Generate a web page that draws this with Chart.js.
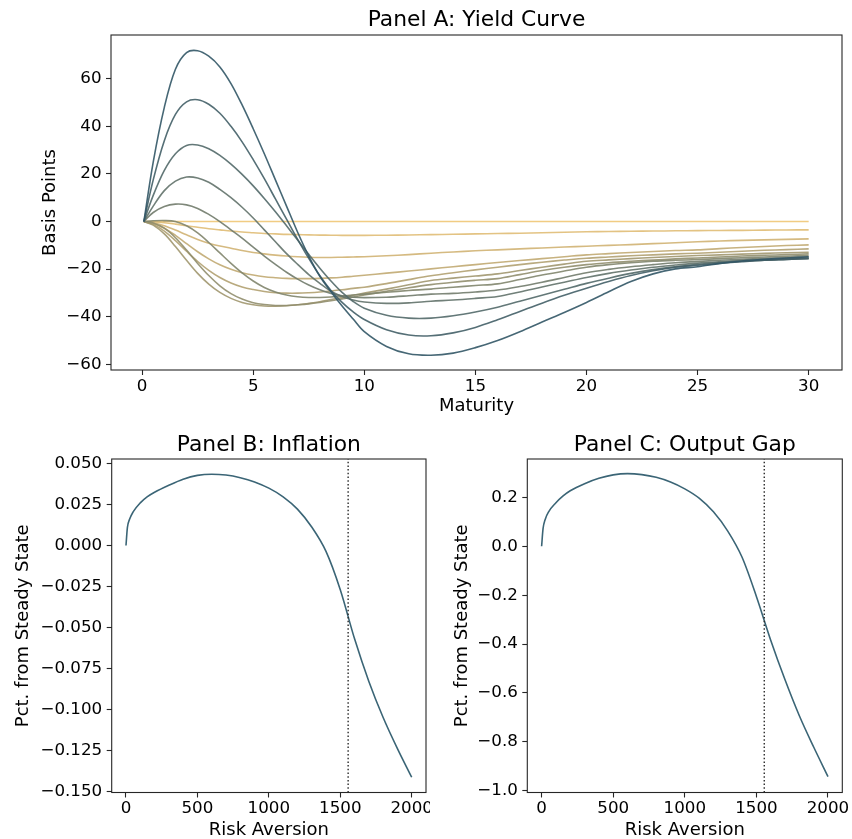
<!DOCTYPE html>
<html><head><meta charset="utf-8">
<script src="https://cdn.jsdelivr.net/npm/chart.js@4.4.0/dist/chart.umd.min.js"></script>
<style>
html,body{margin:0;padding:0;overflow:hidden;background:#fff;width:852px;height:839px;position:relative;}
canvas{position:absolute;}
</style></head><body>
<canvas id="pa" width="852" height="420" style="left:0;top:0;width:852px;height:420px"></canvas>
<canvas id="pb" width="430" height="430" style="left:0;top:420px;width:430px;height:430px"></canvas>
<canvas id="pc" width="422" height="430" style="left:430px;top:420px;width:422px;height:430px"></canvas>
<script>
// ---------------- DATA ----------------
const maturity = [0.08,0.5,1,1.5,2,2.5,3,3.5,4,4.5,5,5.5,6,6.5,7,7.5,8,8.5,9,9.5,10,11,12,13,14,15,16,17,18,19,20,21,22,23,24,25,26,27,28,29,30];

const curve01 = [0,0,0,0,0,0,0,0,0,0,0,0,0,0,0,0,0,0,0,0,0,0,0,0,0,0,0,0,0,0,0,0,0,0,0,0,0,0,0,0,0];
const curve02 = [0,-0.1,-0.5,-1.1,-1.8,-2.4,-3,-3.5,-4,-4.4,-4.7,-5,-5.2,-5.4,-5.5,-5.6,-5.7,-5.75,-5.8,-5.8,-5.8,-5.75,-5.65,-5.5,-5.35,-5.2,-5.05,-4.9,-4.7,-4.5,-4.3,-4.2,-4.1,-4,-3.9,-3.8,-3.75,-3.7,-3.6,-3.55,-3.5];
const curve03 = [0,-0.4,-1.8,-3.6,-5.6,-7.5,-9.1,-10.3,-11.2,-12.2,-13,-13.6,-14.1,-14.5,-14.8,-15,-15.1,-15.1,-15,-14.9,-14.8,-14.4,-13.9,-13.3,-12.8,-12.3,-11.9,-11.5,-11.1,-10.7,-10.4,-10,-9.7,-9.3,-8.9,-8.5,-8.2,-7.9,-7.7,-7.5,-7.3];
const curve04 = [0,-0.8,-2.8,-5.8,-9.3,-12.7,-15.7,-18.2,-20.1,-21.5,-22.5,-23.2,-23.6,-23.9,-24,-24,-23.9,-23.7,-23.4,-23,-22.6,-21.7,-20.8,-19.9,-19,-18.1,-17.2,-16.4,-15.6,-14.8,-14,-13.5,-13,-12.6,-12.2,-11.9,-11.4,-10.9,-10.5,-10.1,-9.8];
const curve05 = [0,-1.2,-4,-8,-12.5,-16.8,-20.5,-23.5,-25.8,-27.5,-28.6,-29.4,-29.9,-30.1,-30.1,-29.9,-29.6,-29.2,-28.7,-28.1,-27.6,-26.1,-24.4,-22.8,-21.5,-20.3,-19.2,-18.1,-17.1,-16.2,-15.4,-14.9,-14.4,-14,-13.6,-13.3,-12.9,-12.5,-12.1,-11.8,-11.5];
const curve06 = [0,-1.5,-5.2,-10.5,-16.3,-21.8,-26.3,-29.8,-32.3,-34,-35,-35.5,-35.6,-35.4,-35,-34.4,-33.7,-32.8,-31.9,-31,-30.1,-28.4,-26.6,-24.8,-23.8,-22.9,-22,-20.6,-19.2,-17.9,-16.7,-16.1,-15.6,-15.1,-14.7,-14.3,-14,-13.7,-13.4,-13.1,-12.9];
const curve07 = [0,-0.6,-2.8,-6.8,-12,-17.6,-22.7,-27,-30.3,-32.6,-34.1,-34.9,-35.3,-35.3,-35,-34.6,-34,-33.3,-32.5,-31.7,-30.9,-29.3,-27.8,-26.5,-25.5,-24.7,-24,-22.3,-20.6,-19.2,-18.1,-17.3,-16.7,-16.2,-15.7,-15.3,-14.9,-14.5,-14.2,-13.9,-13.6];
const curve08 = [0,0.3,0.4,0,-1.8,-4.8,-8.8,-13.2,-17.6,-21.6,-25,-27.7,-29.6,-30.9,-31.6,-31.9,-31.9,-31.7,-31.3,-30.9,-30.5,-29.7,-29,-28.4,-27.6,-26.9,-26.2,-24.4,-22.5,-20.8,-19.2,-18.1,-17.3,-16.7,-16.3,-16,-15.6,-15.2,-14.9,-14.6,-14.3];
const curve09 = [0,3.8,6.3,7.3,7,5.5,3,0,-3.5,-7,-10.8,-14.5,-18,-21.3,-24.2,-26.7,-28.7,-30.2,-31.2,-31.8,-32,-31.8,-31.2,-30.5,-30.2,-29.6,-28.8,-27.3,-25.5,-23.5,-21.5,-20.1,-19,-18.1,-17.3,-16.8,-16.3,-15.9,-15.5,-15.2,-14.9];
const curve10 = [0,6.5,13,17,18.7,18.3,16.5,13.5,10,6,1.5,-3.5,-8.5,-13.5,-18,-22.3,-26,-29.3,-31.5,-33,-33.8,-34.4,-34.2,-33.5,-33,-32.3,-31.5,-29.6,-27.5,-25.5,-23.5,-21.8,-20.4,-19.2,-18.3,-17.5,-16.9,-16.4,-16,-15.7,-15.4];
const curve11 = [0,11,21.5,28.5,32,32.2,30.6,27.8,24.1,19.8,15,9.7,4.1,-1.8,-7.8,-13.8,-19.6,-25,-29.8,-33.6,-36.4,-39.4,-40.6,-40.6,-39.6,-38,-36,-33.5,-31,-28.5,-26,-23.8,-21.8,-20.2,-19,-18,-17.2,-16.7,-16.2,-15.9,-15.6];
const curve12 = [0,17.5,34,45,50.3,51.2,49.3,45.5,40,33.5,26,18,9.5,1,-7.5,-15.5,-22.8,-29,-34,-38,-41.2,-45.5,-47.7,-48,-46.8,-44.5,-41.3,-37.8,-34.3,-31,-28,-25.2,-22.7,-20.7,-19.2,-18.4,-17.6,-16.9,-16.3,-15.9,-15.5];
const curve13 = [0,25,48,64,71,71.8,69.5,65,58,49,39,28.5,17.5,6.5,-4.5,-14.5,-23,-29.5,-35.5,-41,-46.3,-52.5,-55.6,-56.2,-55.3,-53,-50,-46.3,-42.2,-38.2,-34,-29.5,-25.2,-22,-19.9,-19,-17.6,-16.6,-15.9,-15.3,-14.8];

const riskAversion = [0,10,25,50,100,150,200,300,400,500,600,700,800,900,1000,1100,1200,1300,1400,1500,1600,1700,1800,1900,2000];
const inflation = [0,0.011,0.016,0.0205,0.026,0.0298,0.0325,0.0368,0.0405,0.0428,0.0435,0.043,0.0414,0.0388,0.035,0.0297,0.0222,0.0113,-0.0036,-0.027,-0.057,-0.083,-0.105,-0.124,-0.1415];
const outputGap = [0,0.072,0.11,0.142,0.178,0.206,0.227,0.256,0.278,0.292,0.297,0.293,0.282,0.263,0.235,0.197,0.141,0.062,-0.045,-0.205,-0.384,-0.546,-0.693,-0.821,-0.942];
const thresholdRA = 1555;

const xTicksA = [0,5,10,15,20,25,30];
const yTicksA = [-60,-40,-20,0,20,40,60];
const xTicksBC = [0,500,1000,1500,2000];
const yTicksB = [-0.150,-0.125,-0.100,-0.075,-0.050,-0.025,0.000,0.025,0.050];
const yTicksC = [-1.0,-0.8,-0.6,-0.4,-0.2,0.0,0.2];

const titles = ["Panel A: Yield Curve","Panel B: Inflation","Panel C: Output Gap"];
const xLabels = ["Maturity","Risk Aversion","Risk Aversion"];
const yLabels = ["Basis Points","Pct. from Steady State","Pct. from Steady State"];

// ---------------- STYLE / HELPERS ----------------
const FONT = "'DejaVu Sans', sans-serif";
const curves = [curve01,curve02,curve03,curve04,curve05,curve06,curve07,curve08,curve09,curve10,curve11,curve12,curve13];
const cStart = [240,198,118], cEnd = [50,86,102];
function mix(t){ return 'rgba(' + cStart.map((s,k)=>Math.round(s+(cEnd[k]-s)*t)).join(',') + ',0.9)'; }
function pts(xs, ys){ return xs.map((x,i)=>({x:x,y:ys[i]})); }
function fmtMinus(s){ return s.replace('-', '\u2212'); }

const frame = {
  id:'frame',
  afterDatasetsDraw(chart){
    const a = chart.chartArea, ctx = chart.ctx;
    ctx.save(); ctx.strokeStyle = '#262626'; ctx.lineWidth = 1.1;
    ctx.strokeRect(a.left, a.top, a.right - a.left, a.bottom - a.top);
    ctx.restore();
  }
};

function scale(o){
  return {
    type:'linear', position:o.pos, min:o.min, max:o.max,
    afterBuildTicks: s => { s.ticks = o.ticks.map(v=>({value:v})); },
    afterFit: s => {
      if (o.pos === 'bottom') s.height = o.size; else s.width = o.size;
      s.paddingLeft = 0; s.paddingRight = 0; s.paddingTop = 0; s.paddingBottom = 0;
    },
    grid:{display:true, drawOnChartArea:false, drawTicks:true, tickLength:5, tickWidth:1.1, tickColor:'#262626'},
    border:{display:false},
    ticks:{font:{family:FONT,size:16.7}, color:'#000', padding:o.tpad, autoSkip:false, maxRotation:0, minRotation:0, callback:o.fmt},
    title:{display:true, text:o.title, color:'#000', font:{family:FONT,size:18}, padding:o.titlePad}
  };
}

function base(title, titlePad, padRight, scales){
  return {
    responsive:false, animation:false, devicePixelRatio:1,
    layout:{padding:{left:0,right:padRight,top:0,bottom:0}},
    plugins:{
      legend:{display:false}, tooltip:{enabled:false},
      title:{display:true, text:title, fullSize:false, color:'#000', font:{family:FONT,size:21.8,weight:'normal'}, padding:titlePad}
    },
    elements:{point:{radius:0}},
    scales:scales
  };
}

// Panel A
const dsA = curves.map((c,i)=>({
  data: pts(maturity, c), borderColor: mix(i/12), borderWidth:1.6,
  tension:0.35, fill:false, order: 12 - i
}));
new Chart(document.getElementById('pa'), {
  type:'line', data:{datasets:dsA},
  options: base(titles[0], {top:6.9,bottom:1.94}, 10, {
    x: scale({pos:'bottom', min:-1.4, max:31.5, ticks:xTicksA, size:50, tpad:2, title:xLabels[0], titlePad:{top:0,bottom:3.2}, fmt:v=>String(v)}),
    y: scale({pos:'left', min:-62.4, max:78.4, ticks:yTicksA, size:111, tpad:4.5, title:yLabels[0], titlePad:{top:40,bottom:0}, fmt:v=>fmtMinus(String(v))})
  }),
  plugins:[frame]
});

// Panels B and C
function lowerPanel(id, title, ys, yMin, yMax, yTicks, dec, yWidth, padRight, yTitlePad){
  const ds = [
    {data: pts(riskAversion, ys), borderColor:'#3b6576', borderWidth:1.6, cubicInterpolationMode:'monotone', fill:false, order:1},
    {data: [{x:thresholdRA,y:yMin},{x:thresholdRA,y:yMax}], borderColor:'#2a2a2a', borderWidth:1.4, borderDash:[1.5,2.2], fill:false, order:0}
  ];
  new Chart(document.getElementById(id), {
    type:'line', data:{datasets:ds},
    options: base(title, {top:11.9,bottom:0.94}, padRight, {
      x: scale({pos:'bottom', min:-100, max:2100, ticks:xTicksBC, size:430-372.5, tpad:1, title:'Risk Aversion', titlePad:{top:0,bottom:9.2}, fmt:v=>String(v)}),
      y: scale({pos:'left', min:yMin, max:yMax, ticks:yTicks, size:yWidth, tpad:4.5, title:'Pct. from Steady State', titlePad:{top:yTitlePad,bottom:0}, fmt:v=>fmtMinus((Math.abs(v)<1e-9?0:v).toFixed(dec))})
    }),
    plugins:[frame]
  });
}
lowerPanel('pb', titles[1], inflation, -0.1508, 0.0528, yTicksB, 3, 111.7, 4, 13);
lowerPanel('pc', titles[2], outputGap, -1.007, 0.357, yTicksC, 1, 97.3, 9.7, 22);
</script></body></html>
